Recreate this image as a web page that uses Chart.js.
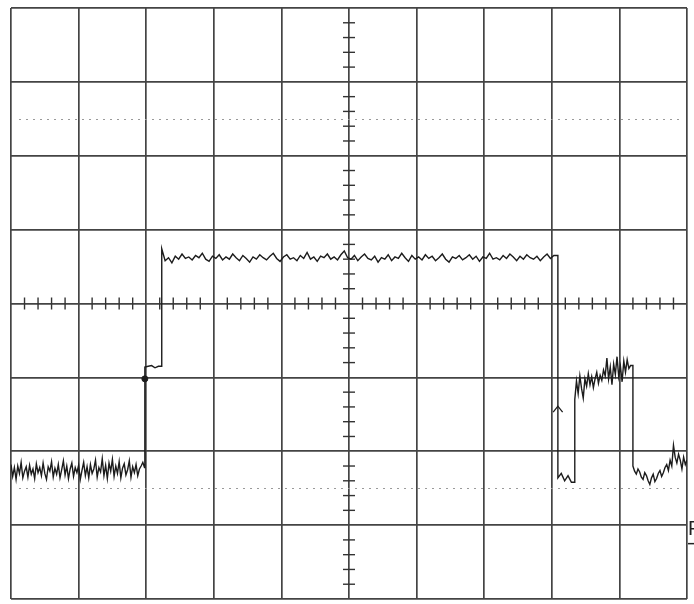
<!DOCTYPE html>
<html>
<head>
<meta charset="utf-8">
<script src="https://cdn.jsdelivr.net/npm/chart.js@4.4.1/dist/chart.umd.min.js"></script>
<style>
  html, body { margin: 0; padding: 0; background: #fff; }
  #wrap { width: 694px; height: 604px; }
</style>
</head>
<body>
<div id="wrap"><canvas id="scope" width="694" height="604"></canvas></div>
<script>
// screen is 10 x 8 divisions, values below are in divisions (y = 0 at centre line)
const xDivs = 10;
const yDivs = 8;
const refLevels = [-2.5, 2.5]; // dotted 0% / 100% lines

// trace pieces: start time (div), sample step (div), samples
const segStarts = [0, 1.98, 2.23, 8.09, 8.34, 9.2];
const segSteps = [0.025, 0.05, 0.05, 0.05, 0.025, 0.025];

const lowLeft = [
    -2.18, -2.34, -2.22, -2.38, -2.20, -2.30, -2.15, -2.36, -2.27, -2.21,
    -2.35, -2.19, -2.31, -2.24, -2.37, -2.17, -2.29, -2.22, -2.33, -2.16,
    -2.30, -2.38, -2.21, -2.27, -2.14, -2.35, -2.23, -2.31, -2.18, -2.36,
    -2.25, -2.13, -2.32, -2.20, -2.37, -2.24, -2.16, -2.34, -2.22, -2.29,
    -2.19, -2.38, -2.26, -2.15, -2.33, -2.21, -2.36, -2.18, -2.30, -2.24,
    -2.12, -2.35, -2.22, -2.28, -2.10, -2.33, -2.19, -2.37, -2.16, -2.27,
    -2.11, -2.34, -2.20, -2.30, -2.14, -2.36, -2.23, -2.17, -2.32, -2.25,
    -2.13, -2.35, -2.21, -2.29, -2.18, -2.33, -2.24, -2.20, -2.15, -2.22,
];
const shelf = [-0.86, -0.85, -0.84, -0.87, -0.85];
const highLevel = [
    0.74, 0.58, 0.62, 0.55, 0.64, 0.60, 0.67, 0.61, 0.63, 0.59,
    0.65, 0.62, 0.68, 0.60, 0.57, 0.64, 0.61, 0.66, 0.59, 0.63,
    0.60, 0.67, 0.62, 0.58, 0.65, 0.61, 0.56, 0.63, 0.60, 0.66,
    0.62, 0.59, 0.64, 0.68, 0.61, 0.57, 0.63, 0.66, 0.60, 0.62,
    0.58, 0.65, 0.61, 0.69, 0.60, 0.63, 0.57, 0.64, 0.62, 0.67,
    0.60, 0.63, 0.59, 0.66, 0.71, 0.62, 0.60, 0.65, 0.58, 0.63,
    0.67, 0.61, 0.59, 0.64, 0.56, 0.62, 0.60, 0.66, 0.58, 0.63,
    0.61, 0.68, 0.62, 0.57, 0.65, 0.60, 0.63, 0.59, 0.66, 0.61,
    0.64, 0.58, 0.62, 0.67, 0.60, 0.56, 0.63, 0.61, 0.65, 0.59,
    0.62, 0.66, 0.60, 0.64, 0.57, 0.63, 0.61, 0.68, 0.60, 0.62,
    0.59, 0.65, 0.61, 0.67, 0.63, 0.58, 0.64, 0.60, 0.66, 0.62,
    0.60, 0.64, 0.58, 0.63, 0.67, 0.61, 0.65,
];
const lowGap = [-2.36, -2.30, -2.40, -2.33, -2.42];
const midPulse = [
    -1.30, -1.05, -1.22, -0.98, -1.15, -1.28, -1.02, -1.12, -0.95, -1.10,
    -0.99, -1.14, -1.02, -0.93, -1.08, -0.97, -1.04, -0.90, -0.98, -0.74,
    -1.02, -0.86, -1.10, -0.82, -0.96, -0.72, -0.99, -0.85, -1.06, -0.78,
    -0.93, -0.76, -0.88, -0.84,
];
const lowRight = [
    -2.20, -2.27, -2.31, -2.24, -2.28, -2.35, -2.38, -2.29, -2.33, -2.40,
    -2.45, -2.36, -2.31, -2.41, -2.37, -2.30, -2.26, -2.34, -2.29, -2.22,
    -2.18, -2.26, -2.12, -2.20, -1.92, -2.08, -2.16, -2.04, -2.12, -2.24,
    -2.08, -2.18, -2.12,
];

// markers: trigger dot on the first edge, caret on the falling edge
const dotMarker = [{ x: 1.98, y: -1.02 }];
const caretMarker = [
    { x: 8.02, y: -1.47 },
    { x: 8.09, y: -1.39 },
    { x: 8.16, y: -1.47 },
];

const segments = [lowLeft, shelf, highLevel, lowGap, midPulse, lowRight];

function buildTrace() {
    const pts = [];
    segments.forEach((vals, k) => {
        const t0 = segStarts[k];
        if (pts.length) {
            // vertical edge at the start of each piece
            pts.push({ x: t0, y: pts[pts.length - 1].y });
        }
        vals.forEach((v, i) => {
            pts.push({ x: +(t0 + i * segSteps[k]).toFixed(3), y: v });
        });
    });
    return pts;
}

const gridColor = '#444';

const graticule = {
    id: 'graticule',
    beforeDatasetsDraw(chart) {
        const { ctx, chartArea: a, scales } = chart;
        const xs = scales.x;
        const ys = scales.y;
        const cx = xs.getPixelForValue(xDivs / 2);
        const cy = ys.getPixelForValue(0);

        ctx.save();
        // dotted reference lines
        ctx.strokeStyle = '#9a9a9a';
        ctx.lineWidth = 1;
        ctx.setLineDash([2, 5]);
        refLevels.forEach((lv) => {
            const y = Math.round(ys.getPixelForValue(lv)) + 0.5;
            ctx.beginPath();
            ctx.moveTo(a.left + 8, y);
            ctx.lineTo(a.right - 8, y);
            ctx.stroke();
        });
        ctx.setLineDash([]);

        // minor ticks on the centre axes, 5 per division
        ctx.strokeStyle = '#333';
        ctx.lineWidth = 1.4;
        for (let i = 1; i < xDivs * 5; i++) {
            if (i % 5 === 0) continue;
            const x = xs.getPixelForValue(i / 5);
            ctx.beginPath();
            ctx.moveTo(x, cy - 6);
            ctx.lineTo(x, cy + 6);
            ctx.stroke();
        }
        for (let i = 1; i < yDivs * 5; i++) {
            if (i % 5 === 0) continue;
            const y = ys.getPixelForValue(-yDivs / 2 + i / 5);
            ctx.beginPath();
            ctx.moveTo(cx - 6, y);
            ctx.lineTo(cx + 6, y);
            ctx.stroke();
        }
        ctx.restore();
    },
    afterDraw(chart) {
        const { ctx, chartArea: a, scales } = chart;
        // cut-off label at the right edge of the scan
        const y = scales.y.getPixelForValue(-3.2);
        ctx.save();
        ctx.fillStyle = '#222';
        ctx.font = '20px "Liberation Sans", sans-serif';
        ctx.textBaseline = 'bottom';
        ctx.fillText('P', a.right + 1, y);
        ctx.fillRect(a.right + 1, y + 3, 10, 1.5);
        ctx.restore();
    },
};

new Chart(document.getElementById('scope'), {
    type: 'line',
    data: {
        datasets: [
            {
                label: 'trace',
                data: buildTrace(),
                borderColor: '#1c1c1c',
                borderWidth: 1.4,
                pointRadius: 0,
                tension: 0,
                fill: false,
            },
            {
                label: 'dot',
                data: dotMarker,
                showLine: false,
                pointRadius: 3,
                pointBackgroundColor: '#1c1c1c',
                pointBorderColor: '#1c1c1c',
            },
            {
                label: 'caret',
                data: caretMarker,
                borderColor: '#1c1c1c',
                borderWidth: 1.3,
                pointRadius: 0,
                tension: 0,
            },
        ],
    },
    options: {
        responsive: false,
        animation: false,
        events: [],
        layout: { padding: { left: 11, right: 7, top: 8, bottom: 1 } },
        scales: {
            x: {
                type: 'linear',
                min: 0,
                max: xDivs,
                ticks: { display: false, stepSize: 1 },
                grid: { color: gridColor, lineWidth: 1.7, drawTicks: false },
                border: { display: false },
            },
            y: {
                type: 'linear',
                min: -yDivs / 2,
                max: yDivs / 2,
                ticks: { display: false, stepSize: 1 },
                grid: { color: gridColor, lineWidth: 1.7, drawTicks: false },
                border: { display: false },
            },
        },
        plugins: {
            legend: { display: false },
            tooltip: { enabled: false },
        },
    },
    plugins: [graticule],
});
</script>
</body>
</html>
